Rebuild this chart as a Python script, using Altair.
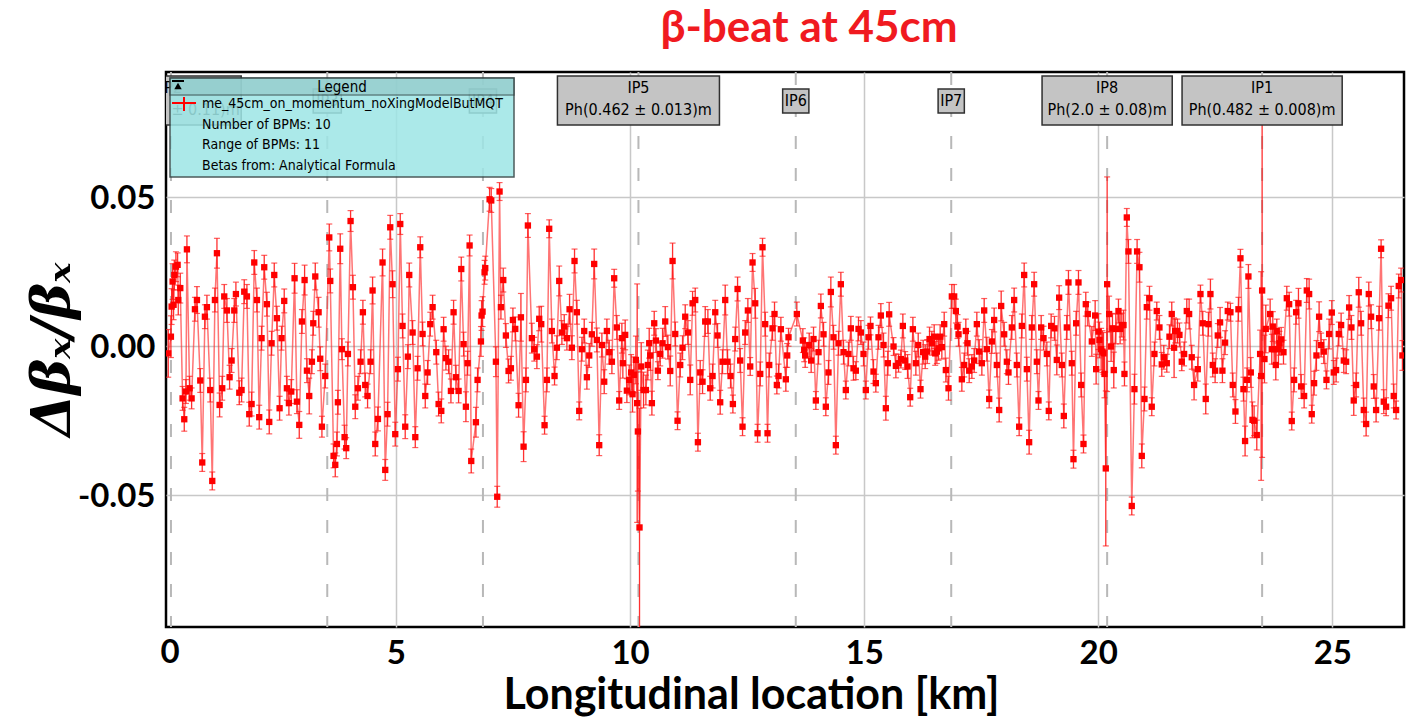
import altair as alt
import pandas as pd

# ---- measured beta-beat per BPM: (s [km], dbeta/beta, error) ----
arc_ip2_ip3 = [(0.138,-0.0025,0.008),(0.195,0.0031,0.007),(0.210,0.0132,0.006),(0.231,0.0216,0.006),(0.252,0.0138,0.005),(0.267,0.0238,0.005),(0.302,0.0266,0.005),(0.338,0.0272,0.004),(0.352,0.0154,0.005),(0.395,0.0194,0.005),(0.444,-0.0176,0.004),(0.480,-0.0246,0.004),(0.516,-0.0153,0.004),(0.537,0.0324,0.0045),(0.594,-0.0142,0.004),(0.637,-0.0176,0.0035),(0.708,0.0123,0.004),(0.751,0.0154,0.0045),(0.822,-0.0116,0.004),(0.864,-0.0391,0.003),(0.921,0.0098,0.004),(0.964,0.0130,0.004),(1.035,-0.0148,0.004),(1.078,-0.0453,0.003),(1.135,0.0154,0.004),(1.178,0.0311,0.005),(1.235,-0.0198,0.004),(1.291,-0.0142,0.004),(1.334,0.0166,0.004),(1.391,0.0119,0.004),(1.448,-0.0105,0.004),(1.491,-0.0049,0.004),(1.548,0.0119,0.004),(1.583,0.0174,0.004),(1.655,-0.0157,0.004),(1.704,-0.0148,0.004),(1.761,0.0182,0.004),(1.818,0.0166,0.004),(1.868,-0.0229,0.004),(1.918,-0.0195,0.004),(1.975,0.0280,0.004),(2.032,0.0154,0.004),(2.081,-0.0239,0.004),(2.131,0.0026,0.004),(2.188,0.0264,0.004),(2.245,0.0140,0.004),(2.295,-0.0255,0.004),(2.345,0.0009,0.004),(2.402,0.0238,0.004),(2.459,0.0093,0.004),(2.516,-0.0209,0.004),(2.558,0.0026,0.004),(2.615,0.0151,0.004),(2.672,-0.0142,0.004),(2.715,-0.0192,0.004)]

arc_ip3_ip4 = [(2.765,-0.0153,0.004),(2.836,0.0227,0.005),(2.886,-0.0187,0.004),(2.936,-0.0265,0.0045),(2.993,0.0082,0.004),(3.050,0.0221,0.005),(3.100,-0.0083,0.004),(3.149,-0.0168,0.006),(3.206,-0.0053,0.004),(3.235,0.0076,0.004),(3.278,0.0233,0.0045),(3.349,0.0113,0.005),(3.384,-0.0043,0.004),(3.420,-0.0271,0.0035),(3.491,-0.0101,0.004),(3.577,0.0364,0.0045),(3.598,0.0218,0.004),(3.669,-0.0369,0.004),(3.705,-0.0399,0.004),(3.740,-0.0329,0.004),(3.761,-0.0189,0.004),(3.811,0.0326,0.005),(3.847,-0.0011,0.0035),(3.904,-0.0306,0.004),(3.939,-0.0343,0.0035),(3.975,-0.0027,0.004),(4.032,0.0419,0.0035),(4.082,0.0197,0.004),(4.132,-0.0204,0.004),(4.189,-0.0142,0.004),(4.246,-0.0053,0.004),(4.295,0.0113,0.004),(4.345,-0.0131,0.004),(4.395,-0.0168,0.004),(4.459,-0.0053,0.004),(4.502,0.0186,0.0045),(4.559,-0.0329,0.004),(4.616,-0.0245,0.004),(4.715,0.0280,0.0045),(4.772,-0.0416,0.0035),(4.822,-0.0229,0.004),(4.879,0.0398,0.004),(4.929,0.0207,0.0045),(4.986,-0.0296,0.004),(5.043,-0.0078,0.004),(5.093,0.0409,0.0035),(5.142,0.0067,0.004),(5.199,-0.0271,0.004),(5.256,-0.0036,0.004),(5.285,0.0238,0.004)]

arc_ip4_a = [(5.357,0.0045,0.004),(5.414,-0.0306,0.0035),(5.463,-0.0075,0.004),(5.520,0.0331,0.0035),(5.570,0.0040,0.004),(5.627,-0.0168,0.004),(5.677,-0.0089,0.004),(5.734,0.0073,0.004),(5.784,0.0130,0.004),(5.862,-0.0021,0.004),(5.912,-0.0195,0.004),(5.969,-0.0218,0.004),(6.019,0.0056,0.004),(6.068,-0.0041,0.004),(6.125,-0.0053,0.004),(6.175,-0.0151,0.004),(6.232,0.0113,0.004),(6.282,-0.0105,0.004),(6.339,-0.0151,0.004),(6.396,0.0258,0.004),(6.446,0.0006,0.004),(6.495,-0.0204,0.005),(6.531,-0.0058,0.004),(6.574,0.0337,0.0035),(6.609,-0.0386,0.004),(6.709,-0.0256,0.005),(6.744,-0.0114,0.004),(6.816,0.0015,0.005),(6.830,0.0102,0.005),(6.851,0.0115,0.005),(6.894,0.0247,0.004),(6.908,0.0261,0.004),(7.001,0.0492,0.004),(7.036,0.0488,0.004),(7.136,-0.0053,0.005),(7.164,-0.0506,0.0035),(7.214,0.0518,0.003),(7.243,0.0130,0.004),(7.293,0.0221,0.004),(7.349,0.0035,0.004),(7.406,-0.0084,0.004),(7.456,-0.0075,0.004),(7.499,0.0087,0.004),(7.549,0.0057,0.004),(7.620,-0.0199,0.004),(7.670,0.0096,0.008),(7.727,-0.0338,0.005),(7.777,-0.0114,0.004),(7.819,0.0404,0.004)]

arc_ip4_ip5 = [(7.904,0.0026,0.005),(7.954,-0.0011,0.004),(8.011,-0.0036,0.004),(8.061,0.0091,0.004),(8.104,0.0073,0.006),(8.175,-0.0266,0.003),(8.225,-0.0114,0.004),(8.274,0.0393,0.003),(8.331,0.0050,0.004),(8.388,-0.0101,0.003),(8.438,-0.0006,0.004),(8.488,0.0218,0.005),(8.545,0.0045,0.004),(8.595,0.0065,0.004),(8.652,0.0026,0.004),(8.709,0.0123,0.005),(8.758,-0.0006,0.004),(8.815,0.0285,0.004),(8.865,0.0113,0.004),(8.915,-0.0218,0.003),(8.972,-0.0011,0.004),(9.022,0.0050,0.004),(9.079,-0.0105,0.004),(9.129,-0.0032,0.004),(9.185,0.0039,0.004),(9.235,0.0275,0.005),(9.292,0.0020,0.004),(9.342,-0.0333,0.0035),(9.399,0.0003,0.004),(9.449,-0.0120,0.004),(9.506,0.0050,0.004),(9.556,-0.0021,0.004),(9.613,-0.0053,0.004),(9.662,0.0227,0.003),(9.719,0.0062,0.004),(9.769,-0.0183,0.003),(9.826,0.0026,0.005),(9.847,-0.0058,0.005),(9.897,0.0037,0.005),(9.933,-0.0150,0.004),(9.983,-0.0114,0.005),(10.025,-0.0089,0.006),(10.054,-0.0162,0.006),(10.082,-0.0097,0.006),(10.125,-0.0047,0.008),(10.153,-0.0192,0.040),(10.168,-0.0287,0.020),(10.203,-0.0609,0.040),(10.239,-0.0069,0.008),(10.289,-0.0148,0.006),(10.339,-0.0148,0.005),(10.381,-0.0064,0.005),(10.410,0.0009,0.005)]

arc_ip5_ip6 = [(10.432,-0.0032,0.005),(10.467,-0.0192,0.004),(10.517,0.0076,0.004),(10.553,0.0018,0.004),(10.595,-0.0083,0.003),(10.645,-0.0027,0.004),(10.695,0.0009,0.005),(10.752,0.0082,0.005),(10.809,-0.0004,0.004),(10.859,-0.0084,0.005),(10.909,0.0285,0.006),(10.966,0.0040,0.004),(11.015,-0.0251,0.003),(11.072,-0.0064,0.004),(11.122,-0.0006,0.004),(11.179,0.0098,0.004),(11.236,0.0045,0.004),(11.286,-0.0114,0.005),(11.336,0.0143,0.004),(11.393,0.0154,0.004),(11.450,-0.0323,0.003),(11.499,-0.0089,0.004),(11.549,-0.0120,0.004),(11.606,0.0082,0.005),(11.663,0.0082,0.004),(11.713,-0.0142,0.004),(11.763,-0.0101,0.004),(11.820,0.0113,0.004),(11.869,0.0035,0.004),(11.926,-0.0189,0.004),(11.976,-0.0053,0.004),(12.033,0.0154,0.005),(12.083,-0.0053,0.004),(12.147,-0.0101,0.004),(12.197,-0.0195,0.003),(12.247,0.0023,0.004),(12.297,0.0191,0.004),(12.353,-0.0049,0.004),(12.403,-0.0271,0.003),(12.460,0.0045,0.004),(12.517,0.0119,0.004),(12.567,-0.0069,0.003),(12.617,0.0280,0.003),(12.674,0.0143,0.005),(12.724,-0.0293,0.003),(12.781,-0.0094,0.004),(12.830,0.0331,0.003),(12.887,0.0073,0.004),(12.937,-0.0293,0.003),(12.973,-0.0064,0.004)]

arc_ip6_ip7 = [(13.044,0.0059,0.004),(13.086,0.0107,0.004),(13.136,-0.0131,0.003),(13.172,-0.0101,0.004),(13.222,0.0056,0.004),(13.328,-0.0112,0.004),(13.357,-0.0032,0.004),(13.385,0.0029,0.003),(13.563,0.0107,0.004),(13.691,0.0018,0.004),(13.720,-0.0013,0.004),(13.741,-0.0032,0.004),(13.827,0.0003,0.004),(13.869,-0.0049,0.004),(13.919,0.0023,0.004),(13.969,-0.0183,0.003),(14.026,-0.0021,0.004),(14.076,0.0134,0.004),(14.133,0.0039,0.004),(14.182,-0.0204,0.003),(14.239,-0.0089,0.004),(14.289,0.0181,0.005),(14.346,0.0029,0.004),(14.396,-0.0333,0.003),(14.453,0.0009,0.004),(14.503,0.0207,0.004),(14.560,-0.0021,0.004),(14.609,-0.0148,0.003),(14.666,-0.0027,0.004),(14.716,0.0059,0.004),(14.773,-0.0075,0.004),(14.823,-0.0083,0.003),(14.880,0.0057,0.004),(14.930,0.0045,0.004),(14.987,-0.0027,0.004),(15.036,-0.0148,0.003),(15.093,0.0029,0.004),(15.136,0.0067,0.003),(15.200,-0.0086,0.004),(15.250,-0.0125,0.003),(15.307,0.0029,0.004),(15.357,0.0102,0.004),(15.414,0.0003,0.004),(15.464,-0.0209,0.004),(15.506,-0.0058,0.004),(15.535,0.0106,0.004)]

arc_ip7 = [(15.628,-0.0002,0.003),(15.678,-0.0067,0.004),(15.735,-0.0058,0.003),(15.785,-0.0044,0.003),(15.827,0.0067,0.004),(15.877,-0.0049,0.003),(15.927,-0.0069,0.004),(15.984,-0.0172,0.003),(16.041,0.0056,0.004),(16.105,-0.0058,0.004),(16.155,0.0003,0.004),(16.204,-0.0145,0.003),(16.261,-0.0021,0.004),(16.304,-0.0036,0.004),(16.347,-0.0019,0.004),(16.397,0.0023,0.004),(16.446,0.0009,0.004),(16.496,0.0031,0.004),(16.518,-0.0025,0.004),(16.553,-0.0019,0.004),(16.589,-0.0008,0.004),(16.624,0.0031,0.004),(16.660,-0.0004,0.004),(16.710,0.0073,0.004),(16.745,-0.0081,0.004),(16.802,-0.0142,0.004),(16.873,0.0166,0.004),(16.923,0.0166,0.004),(16.959,0.0117,0.004),(16.994,0.0065,0.004),(17.016,0.0039,0.004),(17.087,-0.0112,0.004),(17.137,-0.0064,0.004),(17.172,0.0050,0.004),(17.208,0.0009,0.004),(17.244,-0.0083,0.004),(17.301,-0.0069,0.004),(17.350,-0.0049,0.004),(17.407,0.0073,0.004),(17.457,-0.0019,0.004),(17.514,-0.0058,0.004),(17.564,0.0119,0.004),(17.621,-0.0011,0.004),(17.671,-0.0178,0.003),(17.728,0.0015,0.004),(17.777,0.0087,0.004),(17.834,-0.0064,0.004),(17.884,-0.0215,0.004),(17.927,0.0134,0.005),(17.991,0.0039,0.004),(18.048,-0.0053,0.004),(18.083,-0.0089,0.004)]

arc_ip7_ip8 = [(18.154,0.0062,0.004),(18.204,0.0154,0.004),(18.261,-0.0064,0.004),(18.311,-0.0271,0.003),(18.368,0.0067,0.004),(18.418,0.0238,0.004),(18.475,-0.0078,0.004),(18.524,-0.0323,0.004),(18.581,0.0062,0.004),(18.631,0.0207,0.004),(18.688,-0.0053,0.004),(18.724,-0.0183,0.003),(18.781,0.0062,0.004),(18.831,0.0026,0.004),(18.902,-0.0027,0.004),(18.944,-0.0218,0.003),(18.994,0.0067,0.004),(19.065,0.0059,0.004),(19.115,-0.0047,0.005),(19.165,0.0162,0.004),(19.222,-0.0064,0.004),(19.265,-0.0235,0.004),(19.329,0.0062,0.004),(19.364,0.0213,0.004),(19.435,-0.0058,0.004),(19.471,-0.0380,0.003),(19.528,0.0076,0.004),(19.578,0.0213,0.004),(19.635,-0.0131,0.004),(19.685,-0.0329,0.003),(19.734,0.0140,0.004),(19.777,0.0107,0.004),(19.863,0.0015,0.005),(19.934,0.0102,0.005),(19.955,-0.0078,0.005),(20.005,0.0048,0.006),(20.026,0.0020,0.006),(20.062,-0.0011,0.007),(20.090,-0.0019,0.007),(20.112,-0.0025,0.007),(20.133,-0.0094,0.008),(20.161,-0.0411,0.026),(20.190,0.0207,0.036),(20.233,0.0107,0.006),(20.275,-0.0002,0.005),(20.304,0.0059,0.005),(20.332,-0.0081,0.006),(20.375,0.0057,0.005),(20.432,0.0117,0.004),(20.467,0.0057,0.005),(20.503,0.0070,0.004),(20.539,0.0070,0.005),(20.560,-0.0094,0.004),(20.610,0.0431,0.003),(20.645,0.0317,0.004)]

arc_ip8_ip1 = [(20.716,-0.0537,0.003),(20.773,-0.0145,0.005),(20.830,0.0317,0.004),(20.880,0.0264,0.005),(20.930,-0.0369,0.004),(20.987,-0.0178,0.004),(21.037,0.0130,0.004),(21.094,0.0160,0.004),(21.143,-0.0204,0.003),(21.200,-0.0027,0.004),(21.250,0.0117,0.003),(21.307,0.0062,0.004),(21.357,-0.0062,0.004),(21.400,-0.0038,0.004),(21.464,-0.0058,0.003),(21.521,0.0031,0.004),(21.570,0.0107,0.004),(21.620,-0.0006,0.010),(21.642,0.0050,0.004),(21.691,0.0050,0.004),(21.734,0.0037,0.004),(21.784,-0.0053,0.003),(21.834,-0.0027,0.004),(21.891,0.0117,0.004),(21.941,0.0107,0.005),(21.997,-0.0038,0.004),(22.047,-0.0131,0.005),(22.126,-0.0078,0.004),(22.183,0.0174,0.003),(22.232,0.0076,0.004),(22.296,-0.0178,0.005),(22.353,0.0073,0.004),(22.396,0.0174,0.005),(22.446,-0.0064,0.004),(22.496,-0.0083,0.004),(22.553,0.0035,0.004),(22.602,0.0079,0.005),(22.652,-0.0083,0.004),(22.709,0.0011,0.004),(22.766,0.0117,0.003),(22.823,0.0113,0.003),(22.873,-0.0131,0.004),(22.930,-0.0220,0.004),(22.994,0.0123,0.004),(23.037,0.0294,0.003),(23.101,-0.0145,0.004),(23.136,-0.0319,0.005),(23.179,-0.0114,0.004),(23.207,0.0233,0.004)]

arc_ip1_end = [(23.258,-0.0089,0.005),(23.294,-0.0248,0.006),(23.329,-0.0251,0.005),(23.386,-0.0299,0.005),(23.457,-0.0027,0.008),(23.479,-0.0101,0.035),(23.500,0.0186,0.056),(23.550,-0.0044,0.008),(23.578,0.0057,0.008),(23.671,0.0107,0.005),(23.706,-0.0011,0.005),(23.728,0.0065,0.005),(23.756,-0.0011,0.005),(23.792,-0.0064,0.005),(23.813,0.0050,0.004),(23.849,-0.0011,0.005),(23.870,0.0009,0.004),(23.906,0.0022,0.004),(23.956,-0.0021,0.004),(24.027,0.0160,0.004),(24.077,0.0140,0.004),(24.133,-0.0252,0.003),(24.183,-0.0114,0.004),(24.226,0.0113,0.004),(24.276,0.0143,0.005),(24.333,-0.0136,0.004),(24.397,-0.0168,0.004),(24.454,0.0186,0.004),(24.504,0.0174,0.005),(24.560,-0.0229,0.003),(24.610,-0.0125,0.004),(24.660,-0.0032,0.005),(24.717,0.0098,0.005),(24.760,0.0003,0.004),(24.817,-0.0019,0.004),(24.874,-0.0114,0.003),(24.931,0.0040,0.005),(24.988,0.0112,0.004),(25.030,-0.0089,0.004),(25.080,-0.0081,0.004),(25.137,0.0040,0.004),(25.187,0.0070,0.004),(25.244,-0.0049,0.004),(25.294,-0.0053,0.004),(25.358,0.0129,0.004),(25.407,0.0062,0.004),(25.457,-0.0183,0.005),(25.507,-0.0131,0.004),(25.564,0.0180,0.005),(25.614,0.0076,0.004),(25.671,-0.0215,0.004),(25.721,-0.0262,0.004),(25.778,0.0174,0.004),(25.827,0.0098,0.004),(25.884,-0.0136,0.004),(25.934,-0.0215,0.004),(25.998,0.0093,0.004),(26.041,0.0326,0.003),(26.098,-0.0187,0.004),(26.148,-0.0204,0.003),(26.198,0.0135,0.004),(26.254,0.0160,0.004),(26.311,-0.0168,0.004),(26.361,-0.0215,0.003),(26.418,0.0201,0.004),(26.468,0.0221,0.004),(26.496,-0.0032,0.005)]

# ---- interaction points ----
ip_names = ["IP2", "IP3", "IP4", "IP5", "IP6", "IP7", "IP8", "IP1"]
ip_s = [0.196, 3.534, 6.859, 10.18, 13.54, 16.86, 20.19, 23.50]
ip_phase = ["Ph(0.472 ± 0.11)m", "", "", "Ph(0.462 ± 0.013)m", "", "", "Ph(2.0 ± 0.08)m", "Ph(0.482 ± 0.008)m"]
ip_half_km = [1.50, 0.30, 0.29, 1.73, 0.28, 0.28, 1.39, 1.71]

title_text = "β-beat at 45cm"
x_title = "Longitudinal location [km]"
y_title = "Δβₓ/βₓ"
x_ticks = [5, 10, 15, 20, 25]
x_first_tick = "0"
y_ticks = [-0.05, 0.0, 0.05]
legend_lines = ["me_45cm_on_momentum_noXingModelButMQT", "Number of BPMs: 10",
                "Range of BPMs: 11", "Betas from: Analytical Formula"]

X_DOM = [0.09, 26.53]
Y_DOM = [-0.0943, 0.0919]
W, H = 1238, 555

rows = []
for seg in [arc_ip2_ip3, arc_ip3_ip4, arc_ip4_a, arc_ip4_ip5, arc_ip5_ip6, arc_ip6_ip7,
            arc_ip7, arc_ip7_ip8, arc_ip8_ip1, arc_ip1_end]:
    rows.extend(seg)
df = pd.DataFrame(rows, columns=["s", "d", "e"])
df["lo"] = df["d"] - df["e"]
df["hi"] = df["d"] + df["e"]

ipdf = pd.DataFrame({"name": ip_names, "s": ip_s, "phase": ip_phase, "half": ip_half_km})
ipdf["x1"] = ipdf["s"] - ipdf["half"]
ipdf["x2"] = ipdf["s"] + ipdf["half"]
ipdf["big"] = ipdf["phase"] != ""

xs = alt.Scale(domain=X_DOM, nice=False, zero=False)
ys = alt.Scale(domain=Y_DOM, nice=False, zero=False)

FONT = "Lato"
COND = "DejaVu Sans Condensed, DejaVu Sans"
LBL = 33

xaxis = alt.Axis(values=x_ticks, format="d", title=x_title, grid=True, gridColor="#c8c8c8",
                 gridWidth=1.5, domain=False, ticks=False, labelFont=FONT, labelFontSize=LBL,
                 labelFontWeight="bold", labelColor="black", labelPadding=10,
                 titleFont=FONT, titleFontSize=43, titleFontWeight="bold", titleColor="black",
                 titleX=585, titleY=68, titleBaseline="middle", titleAnchor="middle")
yaxis = alt.Axis(values=y_ticks, title=y_title, grid=True, gridColor="#c8c8c8",
                 labelExpr="(datum.value < 0 ? '-' : '') + format(abs(datum.value), '.2f')",
                 gridWidth=1.5, domain=False, ticks=False, labelFont=FONT, labelFontSize=LBL,
                 labelFontWeight="bold", labelColor="black", labelPadding=11, labelOffset=2,
                 titleFont="DejaVu Serif", titleFontSize=54, titleFontWeight="bold",
                 titleFontStyle="italic", titleColor="black", titleAngle=-90,
                 titleX=-113, titleY=277, titleAlign="center", titleBaseline="middle")

X = lambda f: alt.X(f"{f}:Q", scale=xs, axis=xaxis)
Y = lambda f: alt.Y(f"{f}:Q", scale=ys, axis=yaxis)

base = alt.Chart(df)

ip_lines = alt.Chart(ipdf).mark_rule(color="#b8b8b8", strokeWidth=2, strokeDash=[13, 19], clip=True).encode(
    x=X("s"), y=alt.value(0), y2=alt.value(H))

line = base.mark_line(color="#ff2a2a", opacity=0.65, strokeWidth=1.5, clip=True).encode(
    x=X("s"), y=Y("d"))
bars = base.mark_rule(color="#ff1a1a", opacity=0.9, strokeWidth=1.3, clip=True).encode(
    x=X("s"), y=Y("lo"), y2="hi:Q")
cap_lo = base.mark_tick(color="#ff1a1a", orient="horizontal", size=6, thickness=1.2, clip=True).encode(
    x=X("s"), y=Y("lo"))
cap_hi = base.mark_tick(color="#ff1a1a", orient="horizontal", size=6, thickness=1.2, clip=True).encode(
    x=X("s"), y=Y("hi"))
pts = base.mark_square(color="#ff0000", size=40, opacity=1, clip=True).encode(
    x=X("s"), y=Y("d"))

ipc = alt.Chart(ipdf)
big_box = ipc.transform_filter("datum.big").mark_rect(
    fill="#c4c4c4", stroke="#303030", strokeWidth=1.5, clip=True).encode(
    x=X("x1"), x2="x2:Q", y=alt.value(4), y2=alt.value(53))
small_box = ipc.transform_filter("!datum.big").mark_rect(
    fill="#c4c4c4", stroke="#303030", strokeWidth=1.5, clip=True).encode(
    x=X("x1"), x2="x2:Q", y=alt.value(17), y2=alt.value(41))
big_name = ipc.transform_filter("datum.big").mark_text(
    font=COND, fontSize=16, color="black", baseline="middle", clip=True).encode(
    x=X("s"), y=alt.value(16), text="name:N")
big_phase = ipc.transform_filter("datum.big").mark_text(
    font=COND, fontSize=16, color="black", baseline="middle", clip=True).encode(
    x=X("s"), y=alt.value(38), text="phase:N")
small_name = ipc.transform_filter("!datum.big").mark_text(
    font=COND, fontSize=16, color="black", baseline="middle", clip=True).encode(
    x=X("s"), y=alt.value(29), text="name:N")

one = alt.Chart(pd.DataFrame({"k": [0]}))
leg_box = one.mark_rect(fill="#9ee6e6", opacity=0.86, stroke="#304040", strokeWidth=1.5).encode(
    x=alt.value(4), x2=alt.value(348), y=alt.value(6), y2=alt.value(105))
leg_head = one.mark_rect(fill="#8fc4c4", opacity=0.6, stroke="#304040", strokeWidth=1.5).encode(
    x=alt.value(4), x2=alt.value(348), y=alt.value(6), y2=alt.value(23))
leg_title = one.mark_text(text="Legend", font=COND, fontSize=15, color="black", baseline="middle").encode(
    x=alt.value(176), y=alt.value(15))
leg_h = one.mark_rule(color="#ff0000", strokeWidth=2).encode(
    x=alt.value(6), x2=alt.value(30), y=alt.value(31))
leg_v = one.mark_rule(color="#ff0000", strokeWidth=2).encode(
    x=alt.value(18), y=alt.value(25), y2=alt.value(39))
pin = one.mark_point(shape="triangle-up", filled=True, color="black", size=55, opacity=1).encode(
    x=alt.value(12), y=alt.value(14))
pin_bar = one.mark_rule(color="black", strokeWidth=2).encode(
    x=alt.value(6), x2=alt.value(18), y=alt.value(9))
legtxt = alt.Chart(pd.DataFrame({"t": legend_lines, "i": [0, 1, 2, 3]})).transform_calculate(
    yy="32 + datum.i * 20.7").mark_text(font=COND, fontSize=14, color="black",
                                        align="left", baseline="middle").encode(
    x=alt.value(36), y=alt.Y("yy:Q", scale=None, axis=None), text="t:N")

zero_lbl = one.mark_text(text=x_first_tick, font=FONT, fontSize=LBL, fontWeight="bold",
                         color="black", baseline="top").encode(
    x=alt.value(4), y=alt.value(H + 10))

title = one.mark_text(text=title_text, font=FONT, fontSize=44, fontWeight="bold",
                      color="#f01a20", baseline="alphabetic").encode(
    x=alt.value(643), y=alt.value(-30))

chart = alt.layer(
    ip_lines, line, bars, cap_lo, cap_hi, pts,
    big_box, small_box, big_name, big_phase, small_name,
    leg_box, leg_head, leg_title, leg_h, leg_v, pin, pin_bar, legtxt, zero_lbl, title
).properties(
    width=W, height=H,
    autosize=alt.AutoSizeParams(type="none"),
    padding={"left": 166, "top": 72, "right": 5, "bottom": 92},
).configure_view(stroke="black", strokeWidth=2.5)

chart.save("out.html", embed_options={"renderer": "svg", "actions": False})
